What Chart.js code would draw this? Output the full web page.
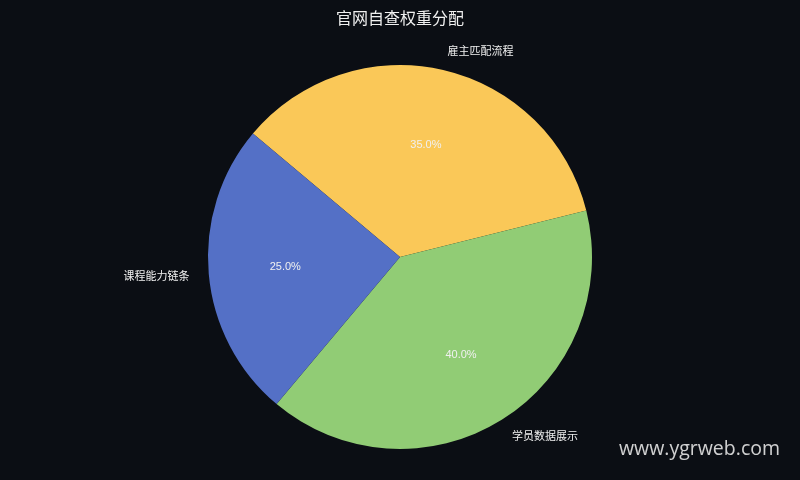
<!DOCTYPE html>
<html><head><meta charset="utf-8">
<script src="https://cdn.jsdelivr.net/npm/chart.js@4/dist/chart.umd.min.js"></script>
<style>html,body{margin:0;padding:0;background:#0b0e14;}#wrap{position:relative;width:800px;height:480px;}</style>
</head><body><div id="wrap"><canvas id="c" width="800" height="480"></canvas></div>
<script>
const categories = ['雇主匹配流程', '学员数据展示', '课程能力链条'];
const values = [35, 40, 25];
const colors = ['#fac858', '#91cc75', '#5470c6'];
const titleText = '官网自查权重分配';
const watermark = 'www.ygrweb.com';

const labelPlugin = {
  id: 'labels',
  afterDatasetsDraw(chart) {
    const ctx = chart.ctx;
    const meta = chart.getDatasetMeta(0);
    const total = values.reduce((a, b) => a + b, 0);
    meta.data.forEach((arc, i) => {
      const p = arc.getProps(['x', 'y', 'startAngle', 'endAngle', 'outerRadius'], true);
      const mid = (p.startAngle + p.endAngle) / 2;
      const r = p.outerRadius;
      ctx.save();
      ctx.fillStyle = '#f0f0f0';
      ctx.textBaseline = 'middle';
      ctx.font = '11px "Liberation Sans", Arial, sans-serif';
      ctx.textAlign = 'center';
      ctx.fillText((values[i] / total * 100).toFixed(1) + '%', p.x + Math.cos(mid) * r * 0.6, p.y + Math.sin(mid) * r * 0.6);
      const lx = p.x + Math.cos(mid) * r * 1.1, ly = p.y + Math.sin(mid) * r * 1.1;
      ctx.font = '11px "Noto Sans CJK SC", sans-serif';
      ctx.textAlign = Math.cos(mid) >= 0 ? 'left' : 'right';
      ctx.fillText(categories[i], lx, ly);
      ctx.restore();
    });
    ctx.save();
    ctx.fillStyle = '#f0f0f0';
    ctx.font = '16px "Noto Sans CJK SC", sans-serif';
    ctx.textAlign = 'center';
    ctx.textBaseline = 'middle';
    ctx.fillText(titleText, 400, 18);
    ctx.fillStyle = 'rgba(230,230,230,0.9)';
    ctx.font = '19.5px "Open Sans", sans-serif';
    ctx.textAlign = 'right';
    ctx.fillText(watermark, 780, 449);
    ctx.restore();
  }
};

new Chart(document.getElementById('c'), {
  type: 'pie',
  data: { labels: categories, datasets: [{ data: values, backgroundColor: colors, borderWidth: 0 }] },
  options: {
    responsive: false,
    animation: false,
    rotation: -50,
    layout: { padding: { top: 65, bottom: 31, left: 0, right: 0 } },
    plugins: { legend: { display: false }, tooltip: { enabled: false }, title: { display: false } }
  },
  plugins: [labelPlugin]
});
</script></body></html>
